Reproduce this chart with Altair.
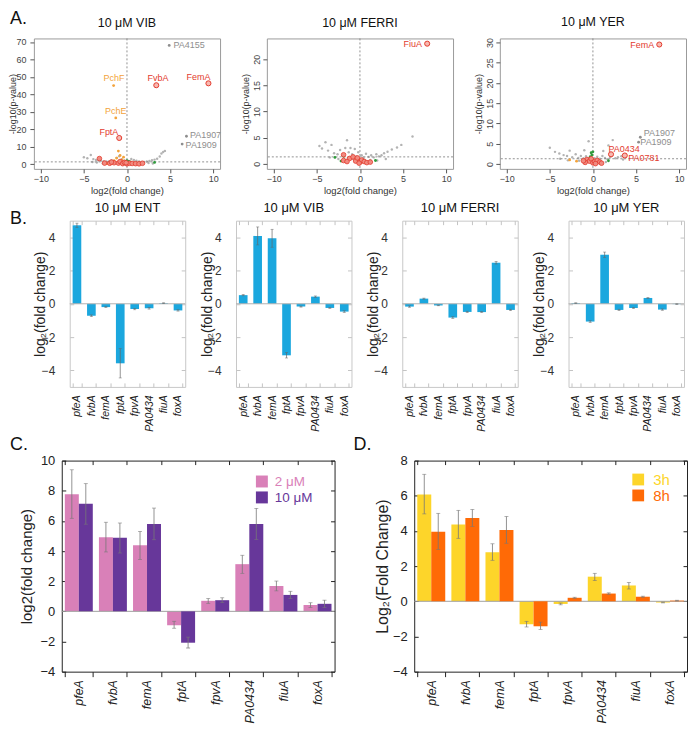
import altair as alt
import pandas as pd

FONT = "Liberation Sans"
RED = "#e33b2e"
RED_FILL = "#f7b9b1"
ORANGE = "#f3a33b"
GREEN = "#2e9b3b"
GRAY_PT = "#b3b3b3"
LAB_GRAY = "#8e8e8e"
BLUE = "#1ba7de"
PINK = "#d980b8"
PURPLE = "#67379a"
YELLOW = "#fdd52a"
DORANGE = "#ff6a06"

P_LINE = 1.3  # p = 0.05 threshold line

genes = ["pfeA", "fvbA", "femA", "fptA", "fpvA", "PA0434", "fiuA", "foxA"]

# ---------------- Panel A (volcano plots) ----------------
vib_gray = [(-5.0, 4.0), (-4.6, 3.4), (-4.2, 5.2), (-3.9, 2.9), (-3.6, 2.4), (-3.3, 2.2), (-3.0, 2.0),
            (-2.7, 1.7), (-2.4, 1.5), (-2.1, 1.6), (-1.8, 2.3), (-1.5, 1.4), (-1.2, 3.5), (-0.9, 4.5),
            (-0.6, 2.8), (-0.3, 1.9), (0.2, 1.8), (0.5, 3.0), (0.8, 2.4), (1.1, 2.0), (1.4, 1.6),
            (1.7, 1.3), (2.0, 1.2), (2.3, 1.5), (2.6, 1.8), (2.9, 2.2), (3.2, 2.6), (3.5, 3.1),
            (3.8, 4.4), (4.0, 6.1), (4.2, 7.0), (4.4, 7.6), (-1.0, 1.1), (-0.5, 0.8), (0.3, 0.6),
            (0.6, 1.0), (1.2, 0.7), (-2.8, 0.5), (-3.5, 0.9), (-4.0, 1.2), (2.5, 0.6), (3.0, 0.4),
            (-1.4, 0.5), (-0.2, 0.3), (1.0, 0.5)]
vib_red = [(-3.2, 3.2), (-2.6, 0.6), (-2.0, 0.5), (-1.5, 0.8), (-1.0, 0.6), (-0.8, 1.5), (-0.5, 0.3),
           (-0.3, 1.0), (0.0, 0.2), (0.3, 0.5), (0.6, 0.4), (1.0, 0.3), (1.4, 0.2), (1.8, 0.5),
           (-1.8, 1.2), (-0.1, 0.8)]
vib_orange = [(-1.0, 7.5), (-0.8, 5.0), (-1.2, 3.5), (-0.6, 2.5), (-1.5, 2.0), (-2.3, 0.3),
              (-0.9, 1.2), (-0.4, 4.0)]
vib_green = [(0.1, 1.6), (0.3, 1.4), (-0.2, 1.2), (3.2, 1.0), (0.0, 2.0)]
# (name, point x, point y, label x, label y, align, kind)
vib_labels = [("PA4155", 4.9, 68.0, 5.4, 68.0, "left", "gray"),
              ("PchF", -1.55, 45.0, -1.5, 49.5, "center", "orange"),
              ("PchE", -1.3, 26.5, -1.3, 30.5, "center", "orange"),
              ("FvbA", 3.4, 45.2, 3.6, 49.5, "center", "red"),
              ("FemA", 9.45, 46.3, 8.3, 50.0, "center", "red"),
              ("FptA", -0.9, 15.0, -2.1, 18.5, "center", "red"),
              ("PA1907", 6.9, 16.0, 7.3, 16.9, "left", "gray"),
              ("PA1909", 6.4, 11.5, 6.8, 10.9, "left", "gray")]

ferri_gray = [(-4.7, 3.4), (-4.4, 2.9), (-4.0, 4.1), (-3.7, 2.5), (-3.3, 3.6), (-3.0, 2.0), (-2.6, 1.8),
              (-2.3, 2.6), (-2.0, 1.5), (-1.7, 3.0), (-1.5, 4.5), (-1.3, 2.2), (-1.1, 3.0), (-0.9, 1.8),
              (-0.6, 2.8), (-0.4, 1.4), (-0.2, 2.2), (0.2, 1.6), (0.4, 1.2), (0.7, 1.9), (1.0, 1.3),
              (1.3, 1.6), (1.6, 1.2), (1.9, 1.8), (2.2, 1.4), (2.5, 1.6), (2.8, 2.0), (3.2, 2.3),
              (3.7, 2.7), (4.3, 3.1), (4.8, 3.6), (6.1, 5.2), (-1.4, 1.1), (-0.8, 0.9), (0.5, 0.8),
              (1.2, 0.7), (-2.5, 0.9), (2.0, 0.6), (-3.5, 1.2), (3.0, 0.9)]
ferri_red = [(-1.9, 1.7), (-1.9, 0.6), (-1.2, 1.0), (-0.8, 1.3), (-0.5, 0.5), (-0.3, 1.1), (0.0, 0.3),
             (0.2, 0.7), (0.5, 0.4), (0.8, 0.2), (-0.1, 0.1), (-1.5, 0.4), (1.2, 0.3)]
ferri_orange = [(-1.9, 0.6)]
ferri_green = [(-2.9, 1.2), (-1.9, 1.4), (0.2, 0.3), (1.8, 0.6), (-2.2, 0.5)]
ferri_labels = [("FiuA", 7.8, 23.0, 7.2, 23.0, "right", "red")]

yer_gray = [(-5.0, 4.0), (-4.4, 3.0), (-3.9, 2.6), (-3.4, 2.2), (-3.0, 2.0), (-2.7, 3.3), (-2.4, 1.7),
            (-2.0, 2.4), (-1.7, 1.5), (-1.4, 2.0), (-1.1, 1.4), (-0.8, 1.9), (-0.5, 5.6), (-0.4, 1.6),
            (-0.2, 2.6), (0.2, 1.4), (0.5, 1.8), (0.8, 1.3), (1.1, 2.0), (1.4, 1.5), (1.7, 1.2),
            (2.0, 1.7), (2.3, 5.9), (2.6, 1.4), (2.9, 1.7), (3.3, 1.9), (1.8, 4.6), (1.2, 3.2),
            (-1.0, 3.4), (-2.9, 0.9), (-1.6, 0.8), (0.4, 0.7), (1.5, 0.5), (3.5, 1.1), (-3.8, 1.3)]
yer_red = [(-0.7, 1.1), (-0.4, 0.7), (-0.2, 1.3), (0.0, 0.3), (0.2, 0.6), (0.5, 0.9), (0.8, 0.5),
           (1.0, 0.2), (-0.9, 0.4), (0.3, 0.1), (-1.1, 0.8)]
yer_orange = [(-2.7, 1.0), (-1.9, 0.7), (-0.2, 1.0), (0.0, 0.5)]
yer_green = [(-0.2, 2.8), (-0.1, 2.2), (0.0, 3.0), (1.8, 0.8), (-0.3, 1.8)]
yer_labels = [("FemA", 7.7, 29.5, 7.1, 29.5, "right", "red"),
              ("PA1907", 5.5, 6.6, 5.9, 7.6, "left", "gray"),
              ("PA1909", 5.3, 5.4, 5.5, 5.4, "left", "gray"),
              ("PA0434", 2.1, 2.4, 1.8, 3.8, "left", "red"),
              ("PA0781", 3.7, 2.1, 4.1, 1.4, "left", "red")]

# ---------------- Panel B (qPCR single concentration) ----------------
ent_vals = [4.72, -0.72, -0.20, -3.58, -0.32, -0.27, 0.04, -0.40]
ent_err = [0.13, 0.05, 0.03, 0.88, 0.04, 0.05, 0.02, 0.04]
vibB_vals = [0.52, 4.08, 3.94, -3.10, -0.17, 0.43, -0.25, -0.47]
vibB_err = [0.04, 0.54, 0.54, 0.16, 0.03, 0.04, 0.03, 0.05]
ferriB_vals = [-0.17, 0.31, -0.10, -0.83, -0.49, -0.50, 2.47, -0.37]
ferriB_err = [0.04, 0.03, 0.02, 0.05, 0.04, 0.03, 0.08, 0.04]
yerB_vals = [0.04, -1.07, 2.95, -0.37, -0.25, 0.35, -0.35, -0.02]
yerB_err = [0.02, 0.05, 0.16, 0.04, 0.03, 0.03, 0.04, 0.02]

# ---------------- Panel C (2 vs 10 uM) ----------------
c_groups = ["2 μM", "10 μM"]
c2 = [7.77, 4.92, 4.38, -0.92, 0.70, 3.13, 1.68, 0.42]
c2_lo = [6.17, 3.94, 3.44, -1.12, 0.53, 2.52, 1.36, 0.26]
c2_hi = [9.39, 5.91, 5.30, -0.66, 0.85, 3.72, 2.01, 0.57]
c10 = [7.13, 4.88, 5.80, -2.08, 0.74, 5.80, 1.09, 0.50]
c10_lo = [5.78, 3.87, 4.75, -2.43, 0.59, 4.77, 0.85, 0.26]
c10_hi = [8.47, 5.86, 6.85, -1.71, 0.90, 6.83, 1.33, 0.74]

# ---------------- Panel D (3h vs 8h) ----------------
d_groups = ["3h", "8h"]
d3 = [6.07, 4.36, 2.79, -1.31, -0.15, 1.40, 0.90, -0.07]
d3_lo = [4.97, 3.58, 2.33, -1.46, -0.20, 1.18, 0.70, -0.09]
d3_hi = [7.22, 5.17, 3.27, -1.14, -0.10, 1.59, 1.07, -0.05]
d8 = [3.95, 4.74, 4.06, -1.42, 0.20, 0.44, 0.26, 0.04]
d8_lo = [2.95, 4.26, 3.30, -1.60, 0.17, 0.40, 0.23, 0.02]
d8_hi = [5.00, 5.22, 4.82, -1.18, 0.23, 0.48, 0.29, 0.06]

# ---------------- sizes ----------------
WA, HA = 187, 131
WB, HB = 116, 167
WC, HC = 274, 212
NOSTROKE = alt.ViewBackground(stroke=None)


def letter_chart(txt, w, y):
    return alt.Chart(pd.DataFrame({"t": [txt]})).mark_text(
        align="left", baseline="alphabetic", fontSize=18, font=FONT, color="#111"
    ).encode(x=alt.value(0), y=alt.value(y), text="t:N").properties(width=w, height=1, view=NOSTROKE)


def gap(w):
    return alt.Chart(pd.DataFrame({"a": [0]})).mark_point(opacity=0, size=1).encode(
        x=alt.value(0), y=alt.value(0)).properties(width=w, height=1, view=NOSTROKE)


def letter_layer(txt, x, y):
    return alt.Chart(pd.DataFrame({"t": [txt]})).mark_text(
        align="left", baseline="alphabetic", fontSize=18, font=FONT, color="#111"
    ).encode(x=alt.value(x), y=alt.value(y), text="t:N")


def df_xy(pairs):
    return pd.DataFrame(pairs, columns=["x", "y"])


def volcano(title, gray, red, orange, green, labels, ydom, yvals, rot):
    xs = alt.Scale(domain=[-10.8, 10.8], nice=False, zero=False)
    ys = alt.Scale(domain=ydom, nice=False, zero=False)
    xax = alt.Axis(orient="bottom", values=[-10, -5, 0, 5, 10], title="log2(fold change)", grid=False,
                   domain=False, tickSize=4, tickColor="#555", labelFontSize=9, labelColor="#444",
                   labelFont=FONT, labelPadding=2, labelFlush=False, titleFont=FONT, titleFontSize=9.5,
                   titleFontWeight="normal", titleColor="#333", titlePadding=2)
    ykw = dict(orient="left", values=yvals, title="-log10(p-value)", grid=False, domain=False, tickSize=4,
               tickColor="#555", labelFontSize=9, labelColor="#444", labelFont=FONT,
               titleFont=FONT, titleFontSize=9, titleFontWeight="normal", titleColor="#333",
               titleX=-21, titleY=HA / 2, titleBaseline="middle", titleAngle=270)
    if rot:
        ykw.update(labelAngle=270, labelPadding=1)
    else:
        ykw.update(labelAngle=0, labelPadding=4)
    yax = alt.Axis(**ykw)

    def X(f):
        return alt.X(f, type="quantitative", scale=xs, axis=None)

    def Y(f):
        return alt.Y(f, type="quantitative", scale=ys, axis=None)

    g = alt.Chart(df_xy(gray)).mark_circle(size=6, color=GRAY_PT, opacity=1).encode(
        x=alt.X("x:Q", scale=xs, axis=xax), y=alt.Y("y:Q", scale=ys, axis=yax))
    vline = alt.Chart(pd.DataFrame({"x": [0.0]})).mark_rule(
        color="#777", strokeDash=[2, 2], strokeWidth=0.8).encode(x=X("x"))
    hline = alt.Chart(pd.DataFrame({"y": [P_LINE]})).mark_rule(
        color="#777", strokeDash=[2, 2], strokeWidth=0.8).encode(y=Y("y"))
    gr = alt.Chart(df_xy(green)).mark_circle(size=8, color=GREEN, opacity=1).encode(x=X("x"), y=Y("y"))
    o = alt.Chart(df_xy(orange)).mark_circle(size=8, color=ORANGE, opacity=1).encode(x=X("x"), y=Y("y"))
    r = alt.Chart(df_xy(red)).mark_point(size=22, filled=True, fill="#f08a80", stroke=RED,
                                         strokeWidth=0.8, opacity=1).encode(x=X("x"), y=Y("y"))
    layers = [g, vline, hline, gr, o, r]

    lab = pd.DataFrame(labels, columns=["name", "x", "y", "tx", "ty", "align", "kind"])
    colmap = {"red": RED, "orange": ORANGE, "gray": LAB_GRAY}
    lab["col"] = lab["kind"].map(colmap)
    for kind, sub in lab.groupby("kind"):
        if kind == "red":
            mk = alt.Chart(sub).mark_point(size=26, filled=True, fill=RED_FILL, stroke=RED,
                                           strokeWidth=1, opacity=1)
        else:
            mk = alt.Chart(sub).mark_circle(size=8, color=colmap[kind], opacity=1)
        layers.append(mk.encode(x=X("x"), y=Y("y")))
    for al, sub in lab.groupby("align"):
        layers.append(alt.Chart(sub).mark_text(align=al, baseline="middle", fontSize=9, font=FONT).encode(
            x=X("tx"), y=Y("ty"), text="name:N", color=alt.Color("col:N", scale=None)))
    return alt.layer(*layers).resolve_axis(x="independent", y="independent").properties(
        width=WA, height=HA,
        title=alt.TitleParams(title, font=FONT, fontSize=12.5, fontWeight="normal", color="#111",
                              offset=9, frame="group", anchor="middle"),
        view=alt.ViewBackground(stroke="#9a9a9a", strokeWidth=1),
    )


def bpanel(title, vals, errs):
    df = pd.DataFrame({"gene": genes, "v": vals,
                       "lo": [v - e for v, e in zip(vals, errs)],
                       "hi": [v + e for v, e in zip(vals, errs)]})
    xsc = alt.Scale(type="band", domain=genes, paddingInner=0.4, paddingOuter=0.2)
    ysc = alt.Scale(domain=[-5, 5], nice=False)
    xax = alt.Axis(orient="bottom", title=None, labelAngle=270, labelFontStyle="italic", labelFontSize=10.5,
                   labelColor="#222", labelFont=FONT, tickBand="extent", tickSize=4, offset=-4,
                   tickColor="#c4c4c4", domain=False, labelPadding=8)
    yax = alt.Axis(orient="left", title="log₂(fold change)", values=[-4, -2, 0, 2, 4], tickSize=4, offset=-4,
                   tickColor="#c4c4c4", domain=False, labelPadding=15, labelFontSize=12,
                   labelColor="#333", labelFont=FONT, titleFont=FONT, titleFontSize=14,
                   titleFontWeight="normal", titleColor="#222", titleX=-33, titleY=HB / 2,
                   titleBaseline="middle", titleAngle=270, grid=False)
    topax = alt.Axis(orient="top", title=None, labels=False, tickBand="extent", tickSize=4, offset=-4,
                     tickColor="#c4c4c4", domain=False)
    rightax = alt.Axis(orient="right", title=None, labels=False, values=[-4, -2, 0, 2, 4], tickSize=4,
                       offset=-4, tickColor="#c4c4c4", domain=False, grid=False)
    bars = alt.Chart(df).mark_bar(color=BLUE).encode(
        x=alt.X("gene:N", scale=xsc, axis=xax), y=alt.Y("v:Q", scale=ysc, axis=yax))
    zero = alt.Chart(pd.DataFrame({"z": [0.0]})).mark_rule(color="#b0b0b0", strokeWidth=1).encode(
        y=alt.Y("z:Q", scale=ysc, axis=rightax))
    err = alt.Chart(df).mark_rule(color="#666", strokeWidth=0.7).encode(
        x=alt.X("gene:N", scale=xsc, axis=topax), y=alt.Y("lo:Q", scale=ysc, axis=None), y2="hi:Q")
    caps_lo = alt.Chart(df).mark_tick(color="#666", size=3, thickness=0.7).encode(
        x=alt.X("gene:N", scale=xsc, axis=None), y=alt.Y("lo:Q", scale=ysc, axis=None))
    caps_hi = alt.Chart(df).mark_tick(color="#666", size=3, thickness=0.7).encode(
        x=alt.X("gene:N", scale=xsc, axis=None), y=alt.Y("hi:Q", scale=ysc, axis=None))
    return alt.layer(bars, zero, err, caps_lo, caps_hi).resolve_axis(
        x="independent", y="independent").properties(
        width=WB, height=HB,
        title=alt.TitleParams(title, font=FONT, fontSize=13, fontWeight="normal", color="#111",
                              offset=5, frame="group", anchor="middle"),
        view=alt.ViewBackground(stroke="#c8c8c8", strokeWidth=1),
    )


def cdpanel(groups, colors, v1, lo1, hi1, v2, lo2, hi2, ydom, yvals, ytitle, ytitle_fs, ytitle_x,
            leg_x, leg_y, leg_lab_x, leg_fs, leg_size, letter=None):
    xsc = alt.Scale(type="band", domain=genes, paddingInner=0.18, paddingOuter=0.09)
    ysc = alt.Scale(domain=ydom, nice=False)
    half = 0.41 * WC / 8 / 2  # pixel shift of each bar from the band centre
    xax = alt.Axis(orient="bottom", title=None, labelAngle=270, labelFontStyle="italic", labelFontSize=12.5,
                   labelColor="#222", labelFont=FONT, tickBand="extent", tickSize=5,
                   tickColor="#222", domain=False, labelPadding=3)
    yax = alt.Axis(orient="left", title=ytitle, values=yvals, tickSize=4, offset=-4, tickColor="#222",
                   domain=False, labelPadding=7, labelFontSize=13, labelColor="#222", labelFont=FONT,
                   titleFont=FONT, titleFontSize=ytitle_fs, titleFontWeight="normal", titleColor="#222",
                   titleX=ytitle_x, titleY=HC / 2, titleBaseline="middle", titleAngle=270, grid=False)
    topax = alt.Axis(orient="top", title=None, labels=False, tickBand="extent", tickSize=4, offset=-4,
                     tickColor="#222", domain=False)
    rightax = alt.Axis(orient="right", title=None, labels=False, values=yvals, tickSize=4, offset=-4,
                       tickColor="#222", domain=False, grid=False)
    zero = alt.Chart(pd.DataFrame({"z": [0.0]})).mark_rule(color="#a0a0a0", strokeWidth=1).encode(
        y=alt.Y("z:Q", scale=ysc, axis=rightax))
    layers = []
    for k, (vals, lo, hi, col) in enumerate([(v1, lo1, hi1, colors[0]), (v2, lo2, hi2, colors[1])]):
        df = pd.DataFrame({"gene": genes, "v": vals, "lo": lo, "hi": hi})
        shift = -half if k == 0 else half
        bar_ax = xax if k == 0 else None
        y_ax = yax if k == 0 else None
        layers.append(alt.Chart(df).mark_bar(color=col, width=alt.RelativeBandSize(0.5), xOffset=shift).encode(
            x=alt.X("gene:N", scale=xsc, axis=bar_ax), y=alt.Y("v:Q", scale=ysc, axis=y_ax)))
        layers.append(alt.Chart(df).mark_rule(color="#777", strokeWidth=0.8, xOffset=shift).encode(
            x=alt.X("gene:N", scale=xsc, axis=topax if k == 0 else None),
            y=alt.Y("lo:Q", scale=ysc, axis=None), y2="hi:Q"))
        for f in ["lo", "hi"]:
            layers.append(alt.Chart(df).mark_tick(color="#777", size=4, thickness=0.8, xOffset=shift).encode(
                x=alt.X("gene:N", scale=xsc, axis=None), y=alt.Y(f + ":Q", scale=ysc, axis=None)))
    layers.insert(1, zero)
    for i, (gname, col) in enumerate(zip(groups, colors)):
        ldf = pd.DataFrame({"lab": [gname]})
        layers.append(alt.Chart(ldf).mark_square(size=leg_size, color=col, opacity=1).encode(
            x=alt.value(leg_x), y=alt.value(leg_y[i])))
        layers.append(alt.Chart(ldf).mark_text(align="left", baseline="middle", fontSize=leg_fs,
                                               font=FONT, color=col).encode(
            x=alt.value(leg_lab_x), y=alt.value(leg_y[i] + 1), text="lab:N"))
    if letter is not None:
        layers.append(letter)
    return alt.layer(*layers).resolve_axis(x="independent", y="independent").properties(
        width=WC, height=HC,
        view=alt.ViewBackground(stroke="#222", strokeWidth=1),
    )


A1 = volcano("10 μM VIB", vib_gray, vib_red, vib_orange, vib_green, vib_labels,
             [-2.7, 72], [0, 10, 20, 30, 40, 50, 60, 70], False)
A2 = volcano("10 μM FERRI", ferri_gray, ferri_red, ferri_orange, ferri_green, ferri_labels,
             [-1.0, 24], [0, 5, 10, 15, 20], True)
A3 = volcano("10 μM YER", yer_gray, yer_red, yer_orange, yer_green, yer_labels,
             [-1.2, 31], [0, 5, 10, 15, 20, 25, 30], True)

B1 = bpanel("10 μM ENT", ent_vals, ent_err)
B2 = bpanel("10 μM VIB", vibB_vals, vibB_err)
B3 = bpanel("10 μM FERRI", ferriB_vals, ferriB_err)
B4 = bpanel("10 μM YER", yerB_vals, yerB_err)

C = cdpanel(c_groups, [PINK, PURPLE], c2, c2_lo, c2_hi, c10, c10_lo, c10_hi, [-4, 10],
            [-4, -2, 0, 2, 4, 6, 8, 10], "log2(fold change)", 15, -39,
            201, [21, 37], 214, 13.5, 144)
D = cdpanel(d_groups, [YELLOW, DORANGE], d3, d3_lo, d3_hi, d8, d8_lo, d8_hi, [-4, 8],
            [-4, -2, 0, 2, 4, 6, 8], "Log₂(Fold Change)", 16, -36,
            225, [19, 35], 240, 15, 140, letter_layer("D.", -61, -11))

rowA = alt.hconcat(letter_chart("A.", 24, -15), A1, gap(47), A2, gap(47), A3, spacing=0, bounds="flush")
rowB = alt.hconcat(letter_chart("B.", 60, 3), B1, gap(51), B2, gap(51), B3, gap(51), B4,
                   spacing=0, bounds="flush")
rowC = alt.hconcat(letter_chart("C.", 52, -11), C, gap(80), D, spacing=0, bounds="flush")
lower = alt.concat(rowB, rowC, columns=1, align="none", spacing=2)
chart = alt.concat(rowA, lower, columns=1, align="none", spacing=6).properties(
    padding=0, background="white"
).configure(font=FONT).configure_view(stroke=None)

chart.save("out.html", embed_options={"renderer": "svg", "actions": False})
